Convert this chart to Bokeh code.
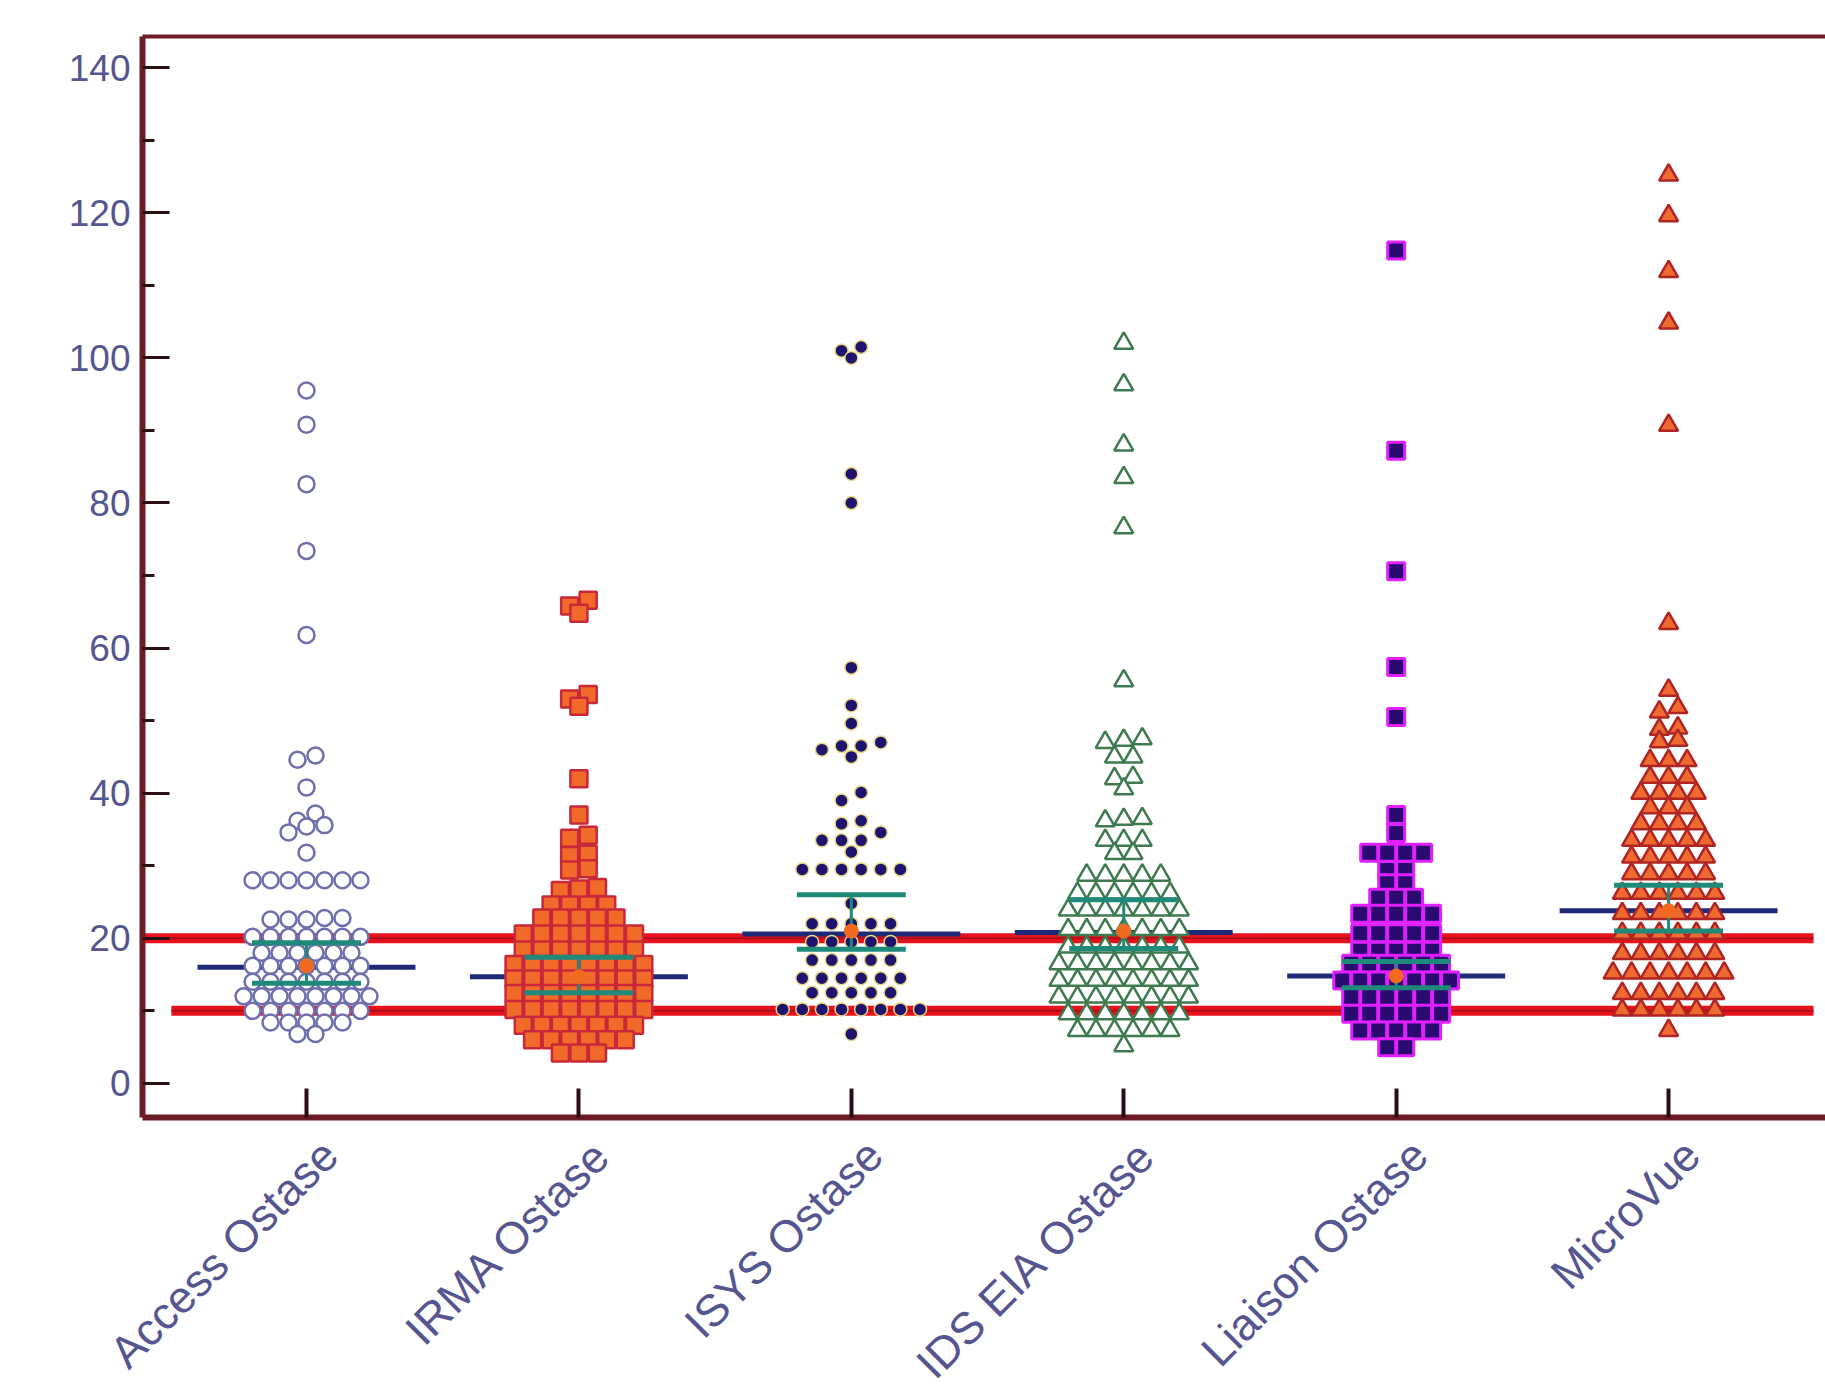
import math
from bokeh.plotting import figure
from bokeh.models import Range1d, FixedTicker
from bokeh.core.properties import value
from bokeh.embed import file_html
from bokeh.resources import INLINE

categories = ["Access Ostase", "IRMA Ostase", "ISYS Ostase", "IDS EIA Ostase", "Liaison Ostase", "MicroVue"]

access = [95.5, 90.8, 82.6, 73.4, 61.8,
          45.2, 44.6, 40.8, 37.2, 36.2, 35.6, 35.4, 34.6, 31.8,
          28, 28, 28, 28, 28, 28, 28,
          22.8, 22.6, 22.6, 22.6, 22.8,
          20.2, 20.2, 20.2, 20.2, 20.2, 20.2, 20.2,
          18, 18, 18, 18, 18, 18,
          16.2, 16.2, 16.2, 16.2, 16.2, 16.2, 16.2,
          14, 14, 14, 14, 14, 14, 14,
          12, 12, 12, 12, 12, 12, 12, 12,
          10, 10, 10, 10, 10, 10, 10,
          8.4, 8.4, 8.4, 8.4, 8.4,
          6.8, 6.8]

irma = [66.6, 65.8, 64.8, 53.6, 53.0, 52.0, 42.0, 37.0, 34.2, 33.8, 31.6, 31.4, 29.6, 29.4,
        27.0, 26.8, 26.6,
        24.6, 24.6, 24.6, 24.6,
        22.8, 22.8, 22.8, 22.8, 22.8,
        20.6, 20.6, 20.6, 20.6, 20.6, 20.6, 20.6,
        18.4, 18.4, 18.4, 18.4, 18.4, 18.4, 18.4,
        16.4, 16.4, 16.4, 16.4, 16.4, 16.4, 16.4, 16.4,
        14.4, 14.4, 14.4, 14.4, 14.4, 14.4, 14.4, 14.4,
        12.4, 12.4, 12.4, 12.4, 12.4, 12.4, 12.4, 12.4,
        10.2, 10.2, 10.2, 10.2, 10.2, 10.2, 10.2, 10.2,
        8.0, 8.0, 8.0, 8.0, 8.0, 8.0, 8.0,
        6.0, 6.0, 6.0, 6.0, 6.0, 6.0,
        4.2, 4.2, 4.2]

isys = [101.5, 101.0, 100.0, 84.0, 80.0, 57.3, 52.1, 49.6,
        47.0, 46.5, 46.5, 46.0, 45.0,
        40.1, 39.0, 36.2, 35.8, 34.6, 33.5, 33.5, 33.5, 31.9,
        29.5, 29.5, 29.5, 29.5, 29.5, 29.5,
        24.8,
        22.0, 22.0, 22.0, 22.0, 22.0,
        19.5, 19.5, 19.5, 19.5, 19.5,
        17.0, 17.0, 17.0, 17.0, 17.0,
        14.5, 14.5, 14.5, 14.5, 14.5, 14.5,
        12.5, 12.5, 12.5, 12.5, 12.5,
        10.2, 10.2, 10.2, 10.2, 10.2, 10.2, 10.2, 10.2,
        6.8]

ids_eia = [102.0, 96.3, 88.0, 83.5, 76.6, 55.5,
           47.5, 47.3, 47.0, 45.0, 45.0, 42.2, 42.0, 40.6,
           36.5, 36.4, 36.2, 33.5, 33.5, 33.5, 31.7, 31.7,
           28.7, 28.7, 28.7, 28.7, 28.7,
           26.2, 26.2, 26.2, 26.2, 26.2, 26.2,
           23.9, 23.9, 23.9, 23.9, 23.9, 23.9, 23.9,
           21.2, 21.2, 21.2, 21.2, 21.2, 21.2, 21.2,
           18.8, 18.8, 18.8, 18.8, 18.8, 18.8, 18.8,
           16.5, 16.5, 16.5, 16.5, 16.5, 16.5, 16.5, 16.5,
           14.2, 14.2, 14.2, 14.2, 14.2, 14.2, 14.2, 14.2,
           11.9, 11.9, 11.9, 11.9, 11.9, 11.9, 11.9, 11.9,
           9.6, 9.6, 9.6, 9.6, 9.6, 9.6, 9.6,
           7.3, 7.3, 7.3, 7.3, 7.3, 7.3,
           5.2]

liaison = [114.8, 87.2, 70.6, 57.4, 50.5, 37.0, 34.5,
           31.8, 31.8, 31.8, 31.8,
           29.4, 29.4, 27.6, 27.6,
           25.6, 25.6, 25.6,
           23.4, 23.4, 23.4, 23.4, 23.4,
           20.7, 20.7, 20.7, 20.7, 20.7,
           18.3, 18.3, 18.3, 18.3, 18.3,
           16.5, 16.5, 16.5, 16.5, 16.5, 16.5,
           14.2, 14.2, 14.2, 14.2, 14.2, 14.2, 14.2,
           11.9, 11.9, 11.9, 11.9, 11.9, 11.9,
           9.6, 9.6, 9.6, 9.6, 9.6, 9.6,
           7.3, 7.3, 7.3, 7.3, 7.3,
           5.0, 5.0]

microvue = [125.2, 119.6, 111.9, 104.8, 90.7, 63.4,
            54.2, 51.8, 51.2, 49.0, 48.8, 47.3, 47.1,
            44.5, 44.5, 44.5, 42.2, 42.2, 42.2,
            40.0, 40.0, 40.0, 40.0, 38.0, 38.0, 38.0,
            35.8, 35.8, 35.8, 35.8,
            33.5, 33.5, 33.5, 33.5, 33.5,
            31.2, 31.2, 31.2, 31.2, 31.2,
            28.9, 28.9, 28.9, 28.9, 28.9,
            26.2, 26.2, 26.2, 26.2, 26.2, 26.2,
            23.4, 23.4, 23.4, 23.4, 23.4, 23.4,
            20.7, 20.7, 20.7, 20.7, 20.7, 20.7,
            17.9, 17.9, 17.9, 17.9, 17.9, 17.9,
            15.2, 15.2, 15.2, 15.2, 15.2, 15.2, 15.2,
            12.4, 12.4, 12.4, 12.4, 12.4, 12.4,
            10.1, 10.1, 10.1, 10.1, 10.1, 10.1,
            7.3]

median_line = [16.0, 14.7, 20.6, 20.8, 14.8, 23.8]
ci_upper = [19.4, 17.4, 26.0, 25.3, 16.8, 27.3]
ci_lower = [13.8, 12.5, 18.5, 18.6, 13.2, 21.0]
center_dot = [16.2, 14.7, 21.0, 21.0, 14.8, 23.8]
reference_limits = [20.0, 10.0]

y_ticks = [0, 20, 40, 60, 80, 100, 120, 140]
y_minor_ticks = [10, 30, 50, 70, 90, 110, 130]

AXIS = "#6b1c24"
LABEL = "#55558f"
FONT = "Liberation Sans"
W, H = 1825, 1398
LEFT, TOP, BOTTOM = 142, 36, 281
# value range covered by the framed plot area
Y0, Y1 = -4.7, 144.3
X0, X1 = -0.602, 5.576
PXU = (W - LEFT) / (X1 - X0)
PYU = (H - TOP - BOTTOM) / (Y1 - Y0)


def swarm(values, pos, dx, tol):
    vals = sorted(values, reverse=True)
    bins = []
    for v in vals:
        if bins and bins[-1][0] - v <= tol:
            bins[-1].append(v)
        else:
            bins.append([v])
    xs, ys = [], []
    for b in bins:
        b = sorted(b)
        n = len(b)
        for i, v in enumerate(b):
            xs.append(pos + (i - (n - 1) / 2) * dx)
            ys.append(v)
    return xs, ys


p = figure(width=W, height=H,
           x_range=Range1d(X0 - LEFT / PXU, X1),
           y_range=Range1d(Y0 - BOTTOM / PYU, Y1 + TOP / PYU),
           output_backend="svg", toolbar_location=None,
           min_border_left=0, min_border_top=0, min_border_right=0, min_border_bottom=0)
p.outline_line_color = None
p.xgrid.visible = False
p.ygrid.visible = False
p.background_fill_color = "white"
p.border_fill_color = "white"

# y axis, drawn at the left edge of the value area
p.yaxis.fixed_location = X0
p.yaxis.bounds = (Y0, Y1)
p.yaxis.ticker = FixedTicker(ticks=y_ticks, minor_ticks=y_minor_ticks)
p.yaxis.axis_line_color = AXIS
p.yaxis.axis_line_width = 6
p.yaxis.major_tick_in = 27
p.yaxis.major_tick_out = 0
p.yaxis.minor_tick_in = 12
p.yaxis.minor_tick_out = 0
p.yaxis.major_tick_line_width = 3
p.yaxis.minor_tick_line_width = 3
p.yaxis.major_tick_line_color = "#2a1014"
p.yaxis.minor_tick_line_color = "#2a1014"
p.yaxis.major_label_text_font = FONT
p.yaxis.major_label_text_font_size = "37px"
p.yaxis.major_label_text_color = LABEL
p.yaxis.major_label_standoff = 12

# x axis, drawn at the bottom edge of the value area
pos = list(range(len(categories)))
p.xaxis.fixed_location = Y0
p.xaxis.bounds = (X0, X1)
p.xaxis.ticker = FixedTicker(ticks=pos, minor_ticks=[])
p.xaxis.major_label_overrides = {i: "" for i in pos}
p.xaxis.major_label_standoff = 0
p.xaxis.axis_line_color = AXIS
p.xaxis.axis_line_width = 6
p.xaxis.major_tick_in = 29
p.xaxis.major_tick_out = 0
p.xaxis.major_tick_line_width = 4
p.xaxis.major_tick_line_color = "#2a1014"

# top border of the value area
p.segment(x0=[X0], x1=[X1], y0=[Y1], y1=[Y1], line_color=AXIS, line_width=4)

# category labels, rotated, just below the x axis
p.text(x=[i + 0.02 for i in pos], y=[Y0 - 12 / PYU] * len(pos), text=categories,
       angle=math.pi / 4, text_align="right", text_baseline="top",
       text_font=value(FONT), text_font_size=value("45px"), text_color=LABEL)

# reference limit lines (beneath points)
p.segment(x0=[X0, -0.496], x1=[5.532, 5.532], y0=reference_limits, y1=reference_limits,
          line_color="#e8121c", line_width=10)
p.segment(x0=[X0, -0.496], x1=[5.532, 5.532], y0=reference_limits, y1=reference_limits,
          line_color="#b0101c", line_width=2)

# median lines (beneath points)
p.segment(x0=[x - 0.4 for x in pos], x1=[x + 0.4 for x in pos], y0=median_line, y1=median_line,
          line_color="#1e2a78", line_width=5)

# groups
xs, ys = swarm(access, 0, 0.066, 1.5)
p.scatter(xs, ys, marker="circle", size=16, fill_color="white", line_color="#6f6fae", line_width=2.5)

xs, ys = swarm(irma, 1, 0.068, 1.5)
p.scatter(xs, ys, marker="square", size=17, fill_color="#f26a2a", line_color="#c8283a", line_width=2.5)

xs, ys = swarm(isys, 2, 0.072, 1.4)
p.scatter(xs, ys, marker="circle", size=13, fill_color="#1e1470", line_color="#e8d880", line_width=1.5)

xs, ys = swarm(ids_eia, 3, 0.068, 1.5)
p.scatter(xs, ys, marker="triangle", size=19, fill_color="white", line_color="#3e7a4e", line_width=2.5)

xs, ys = swarm(liaison, 4, 0.066, 1.5)
p.scatter(xs, ys, marker="square", size=17, fill_color="#2a0a70", line_color="#e020ff", line_width=3)

xs, ys = swarm(microvue, 5, 0.068, 1.5)
p.scatter(xs, ys, marker="triangle", size=19, fill_color="#ee6a30", line_color="#b02424", line_width=2.5)

# CI lines and centre dots (on top)
p.segment(x0=[x - 0.2 for x in pos], x1=[x + 0.2 for x in pos], y0=ci_upper, y1=ci_upper,
          line_color="#1f8a7a", line_width=5)
p.segment(x0=[x - 0.2 for x in pos], x1=[x + 0.2 for x in pos], y0=ci_lower, y1=ci_lower,
          line_color="#1f8a7a", line_width=5)
p.segment(x0=pos, x1=pos, y0=ci_lower, y1=ci_upper, line_color="#1f8a7a", line_width=3)
p.scatter(pos, center_dot, marker="circle", size=14, fill_color="#f26a1f", line_color="#f26a1f")

open("out.html", "w").write(file_html(p, INLINE))
